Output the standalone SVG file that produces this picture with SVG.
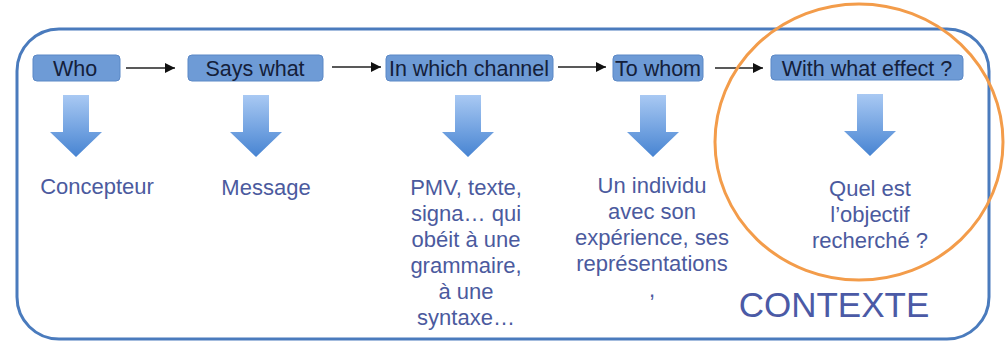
<svg xmlns="http://www.w3.org/2000/svg" width="1007" height="342" viewBox="0 0 1007 342">
<style>
.box{fill:#6e9bd6;stroke:#5b88c6;stroke-width:1}
.bt{font-family:"Liberation Sans",Arial,sans-serif;font-size:21.5px;fill:#14203a;text-anchor:middle}
.t{font-family:"Liberation Sans",Arial,sans-serif;font-size:22px;fill:#4b5a9e;text-anchor:middle}
.con{stroke:#222;stroke-width:1.3;fill:none;marker-end:url(#ah)}
.down{fill:url(#g)}
</style>
<defs>
<marker id="ah" viewBox="0 0 10 10" refX="10" refY="5" markerWidth="14" markerHeight="10" markerUnits="userSpaceOnUse" orient="auto">
<path d="M0,0 L10,5 L0,10 z" fill="#111"/>
</marker>
<linearGradient id="g" x1="0" y1="0" x2="0" y2="1">
<stop offset="0" stop-color="#a9c9f3"/>
<stop offset="1" stop-color="#4784d2"/>
</linearGradient>
<path id="da" d="M-13,0 H13 V37 H26 L0,62 L-26,37 H-13 Z"/>
</defs>
<rect x="17" y="29" width="972" height="310" rx="42" ry="42" fill="#fff" stroke="#4a7bbd" stroke-width="3"/>
<g id="connectors">
<line class="con" x1="126" y1="68" x2="175" y2="68"/>
<line class="con" x1="332" y1="67" x2="381" y2="67"/>
<line class="con" x1="558" y1="67" x2="606" y2="67"/>
<line class="con" x1="715" y1="68" x2="763" y2="68"/>
</g>
<g id="who">
<rect class="box" x="33" y="55" width="87" height="26" rx="4"/>
<text class="bt" x="75" y="76">Who</text>
<use href="#da" class="down" x="76" y="95"/>
<text class="t" x="97" y="194">Concepteur</text>
</g>
<g id="says-what">
<rect class="box" x="188" y="55" width="135" height="26" rx="4"/>
<text class="bt" x="255" y="76">Says what</text>
<use href="#da" class="down" x="256" y="95"/>
<text class="t" x="266" y="195">Message</text>
</g>
<g id="channel">
<rect class="box" x="386" y="55" width="167" height="26" rx="4"/>
<text class="bt" x="469" y="76">In which channel</text>
<use href="#da" class="down" x="468" y="95"/>
<text class="t" y="195"><tspan x="466">PMV, texte,</tspan><tspan x="466" dy="26">signa… qui</tspan><tspan x="466" dy="26">obéit à une</tspan><tspan x="466" dy="26">grammaire,</tspan><tspan x="466" dy="26">à une</tspan><tspan x="466" dy="26">syntaxe…</tspan></text>
</g>
<g id="to-whom">
<rect class="box" x="613" y="55" width="90" height="26" rx="4"/>
<text class="bt" x="658" y="76">To whom</text>
<use href="#da" class="down" x="653" y="95"/>
<text class="t" y="193"><tspan x="652">Un individu</tspan><tspan x="652" dy="26">avec son</tspan><tspan x="652" dy="26">expérience, ses</tspan><tspan x="652" dy="26">représentations</tspan><tspan x="652" dy="26">,</tspan></text>
</g>
<g id="effect">
<rect class="box" x="771" y="55" width="192" height="25" rx="4"/>
<text class="bt" x="867" y="76">With what effect ?</text>
<use href="#da" class="down" x="870" y="94"/>
<text class="t" y="196"><tspan x="870">Quel est</tspan><tspan x="870" dy="26">l’objectif</tspan><tspan x="870" dy="26">recherché ?</tspan></text>
</g>
<g id="contexte">
<ellipse cx="859" cy="142" rx="144" ry="138" fill="none" stroke="#f39c4a" stroke-width="3"/>
<text x="834" y="317" font-family="'Liberation Sans',Arial,sans-serif" font-size="35" fill="#4b5aa6" text-anchor="middle">CONTEXTE</text>
</g>
</svg>
